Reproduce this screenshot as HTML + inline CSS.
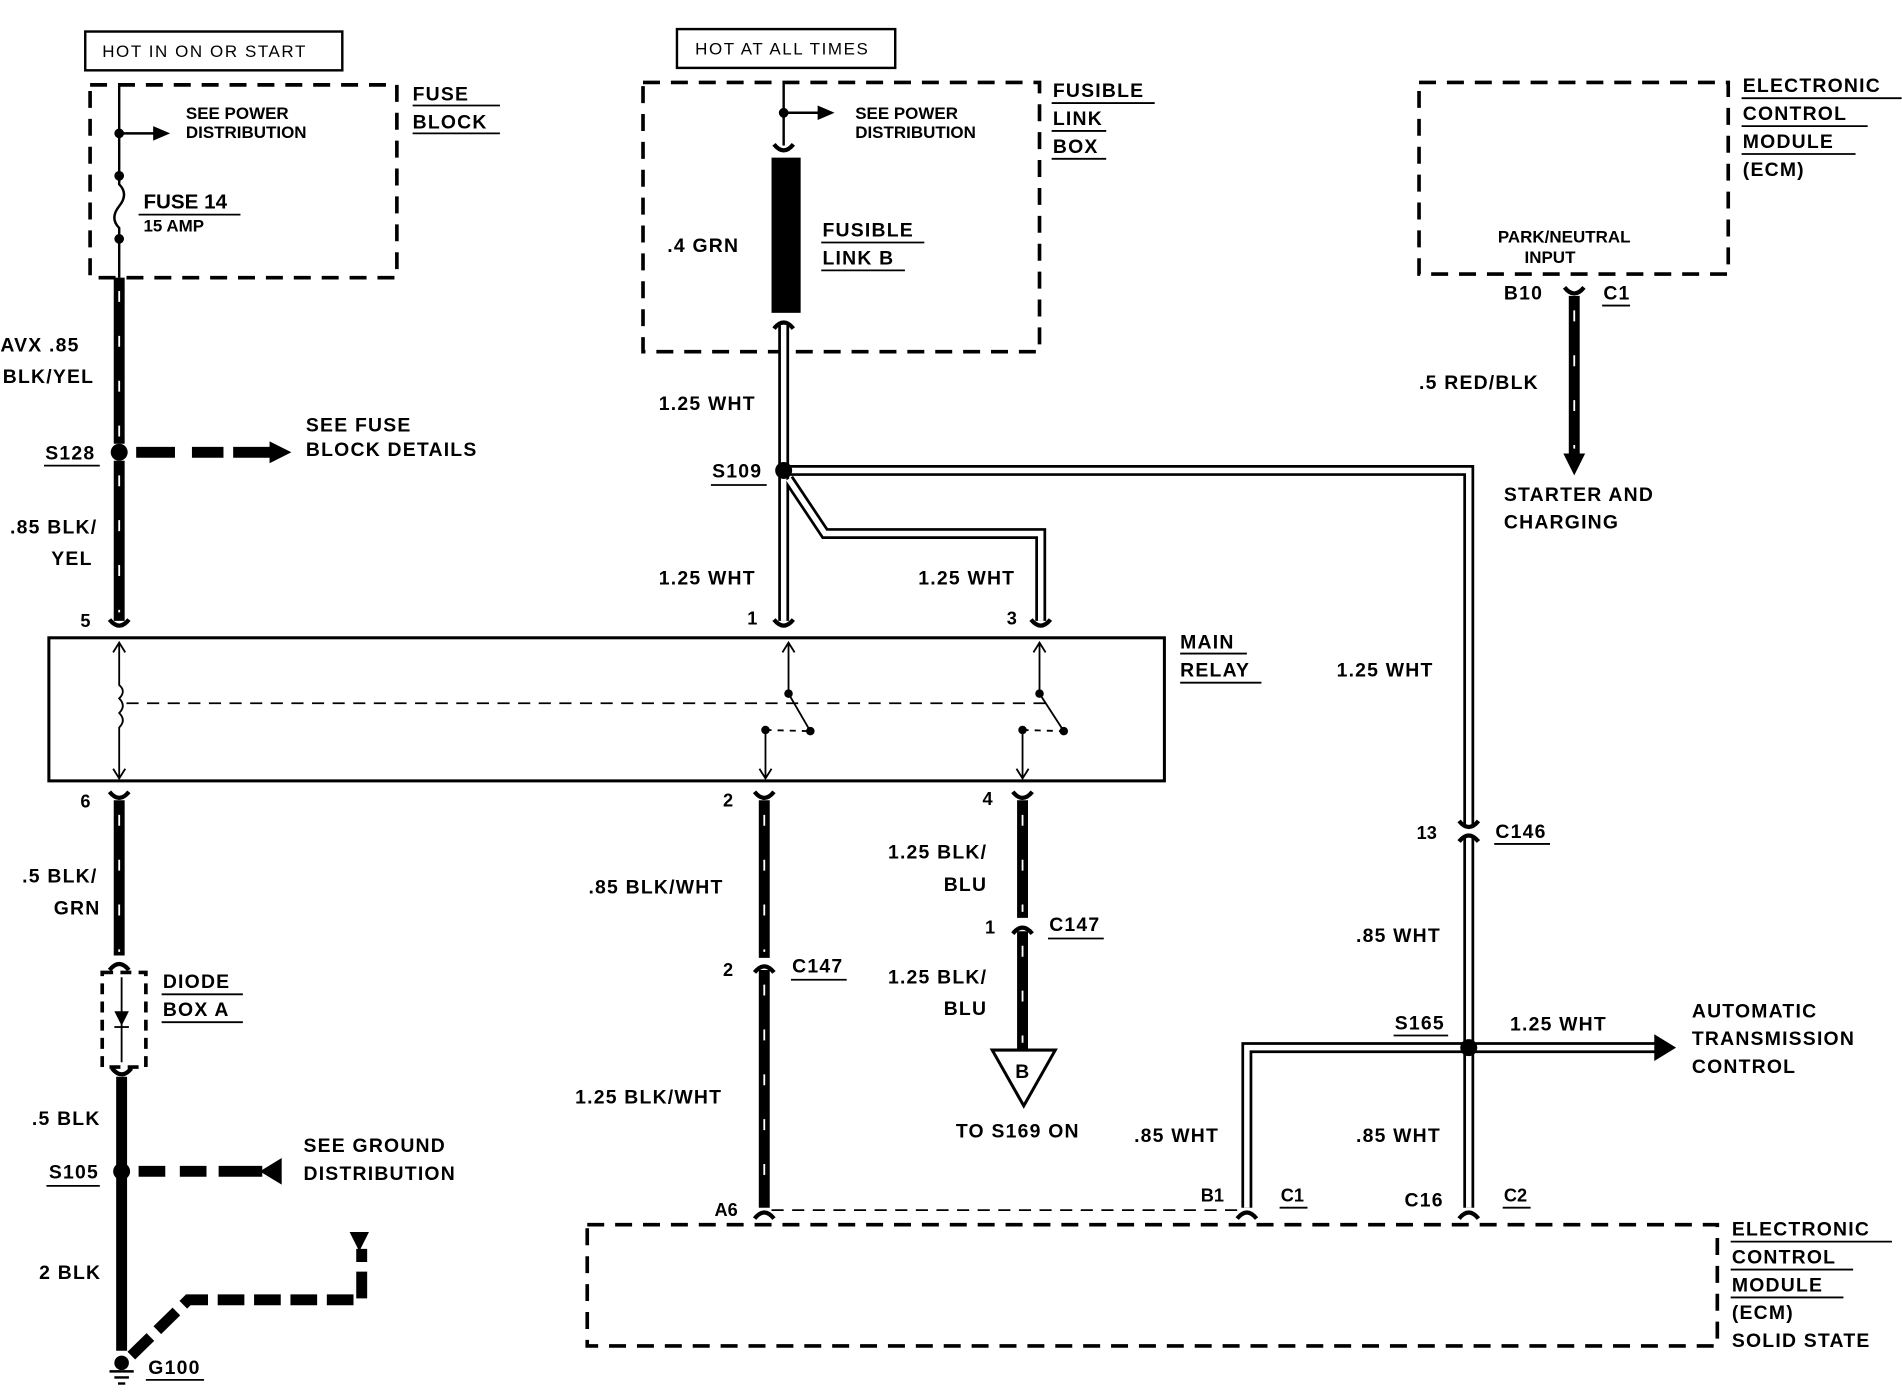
<!DOCTYPE html>
<html><head><meta charset="utf-8"><style>
html,body{margin:0;padding:0;background:#fff}
svg{display:block}
text{font-family:"Liberation Sans",Arial,sans-serif;font-weight:bold;fill:#000}
.t{font-size:16px;letter-spacing:1px}
.s{font-size:14px}
.n{font-size:15px}
.m{font-size:14px;font-weight:normal;letter-spacing:1.3px}
.dash{fill:none;stroke:#000;stroke-width:3;stroke-dasharray:14,9}
.thk{stroke:#000;stroke-width:9;fill:none}
.tick{stroke:#fff;stroke-width:1.5;stroke-dasharray:9,28;fill:none}
.dw{stroke:#000;stroke-width:9;fill:none}
.dwi{stroke:#fff;stroke-width:4.5;fill:none}
.thin{stroke:#000;stroke-width:2;fill:none}
.u{stroke:#000;stroke-width:1.5}
</style></head><body>
<svg width="1902" height="1392" viewBox="0 0 1568 1148" xmlns="http://www.w3.org/2000/svg">
<defs>
<path id="cd" d="M-8,-5 Q0,5 8,-5" fill="none" stroke="#000" stroke-width="3.5"/>
<path id="cu" d="M-8,5 Q0,-5 8,5" fill="none" stroke="#000" stroke-width="3.5"/>
</defs>

<rect x="70" y="26" width="212" height="32" fill="none" stroke="#000" stroke-width="2"/>
<text x="84" y="47" class="m">HOT IN ON OR START</text>
<rect x="74" y="70" width="253" height="159" class="dash"/>
<text x="340" y="83" class="t">FUSE</text><line x1="340" y1="87" x2="412" y2="87" class="u"/>
<text x="340" y="106" class="t">BLOCK</text><line x1="340" y1="110" x2="412" y2="110" class="u"/>
<line x1="98" y1="70" x2="98" y2="150" class="thin"/>
<circle cx="98" cy="110" r="4"/>
<line x1="98" y1="110" x2="128" y2="110" class="thin"/><path d="M126,104 L140,110 L126,116Z"/>
<text x="153" y="98" class="s">SEE POWER</text><text x="153" y="114" class="s">DISTRIBUTION</text>
<circle cx="98" cy="145" r="4"/><circle cx="98" cy="197" r="4"/>
<path d="M98,145 L98,152 Q106,160 98,170 Q90,180 98,188 L98,229" class="thin"/>
<text x="118" y="172" style="font-size:17px">FUSE 14</text>
<line x1="114" y1="177" x2="198" y2="177" class="u"/>
<text x="118" y="191" class="s">15 AMP</text>

<line x1="98" y1="229" x2="98" y2="366" class="thk"/><line x1="98" y1="240" x2="98" y2="366" class="tick"/>
<line x1="98" y1="380" x2="98" y2="512" class="thk"/><line x1="98" y1="392" x2="98" y2="505" class="tick"/>
<use href="#cd" x="98" y="516"/>
<text x="0" y="290" class="t">AVX .85</text><text x="2" y="316" class="t">BLK/YEL</text>
<circle cx="98" cy="373" r="7"/>
<text x="37" y="379" class="t">S128</text><line x1="36" y1="384" x2="82" y2="384" class="u"/>
<g stroke="#000" stroke-width="9"><line x1="112" y1="373" x2="144" y2="373"/><line x1="158" y1="373" x2="184" y2="373"/><line x1="192" y1="373" x2="224" y2="373"/></g>
<path d="M222,364 L240,373 L222,382Z"/>
<text x="252" y="356" class="t">SEE FUSE</text><text x="252" y="376" class="t">BLOCK DETAILS</text>
<text x="8" y="440" class="t">.85 BLK/</text><text x="42" y="466" class="t">YEL</text>
<text x="66" y="517" class="n">5</text>

<rect x="40" y="526" width="920" height="118" fill="none" stroke="#000" stroke-width="2.5"/>
<text x="973" y="535" class="t">MAIN</text><line x1="973" y1="539" x2="1028" y2="539" class="u"/>
<text x="973" y="558" class="t">RELAY</text><line x1="973" y1="563" x2="1040" y2="563" class="u"/>
<path d="M98,530 L98,565 Q104,570 98,576 Q104,582 98,588 Q104,594 98,600 L98,642" fill="none" stroke="#000" stroke-width="1.5"/>
<path d="M93,538 L98,530 L103,538 M93,634 L98,642 L103,634" fill="none" stroke="#000" stroke-width="1.5"/>
<line x1="104" y1="580" x2="862" y2="580" stroke="#000" stroke-width="1.5" stroke-dasharray="10,7"/>
<g fill="none" stroke="#000" stroke-width="1.5">
<path d="M650,530 L650,572 L668,603 M645,538 L650,530 L655,538"/>
<path d="M631,602 L631,642 M626,634 L631,642 L636,634"/>
<path d="M631,602 L668,603" stroke-dasharray="5,5"/>
<path d="M857,530 L857,572 L877,603 M852,538 L857,530 L862,538"/>
<path d="M843,602 L843,642 M838,634 L843,642 L848,634"/>
<path d="M843,602 L877,603" stroke-dasharray="5,5"/>
</g>
<circle cx="650" cy="572" r="3.5"/><circle cx="668" cy="603" r="3.5"/><circle cx="631" cy="602" r="3.5"/>
<circle cx="857" cy="572" r="3.5"/><circle cx="877" cy="603" r="3.5"/><circle cx="843" cy="602" r="3.5"/>

<text x="66" y="666" class="n">6</text>
<use href="#cd" x="98" y="658"/>
<line x1="98" y1="660" x2="98" y2="788" class="thk"/><line x1="98" y1="672" x2="98" y2="785" class="tick"/>
<use href="#cu" x="98" y="795"/>
<text x="18" y="728" class="t">.5 BLK/</text><text x="44" y="754" class="t">GRN</text>
<rect x="84" y="802" width="36" height="78" fill="none" stroke="#000" stroke-width="3" stroke-dasharray="9,6"/>
<line x1="100" y1="806" x2="100" y2="876" stroke="#000" stroke-width="1.5"/>
<path d="M94,834 L106,834 L100,846Z"/><line x1="94" y1="847" x2="106" y2="847" stroke="#000" stroke-width="1.5"/>
<text x="134" y="815" class="t">DIODE</text><line x1="133" y1="820" x2="200" y2="820" class="u"/>
<text x="134" y="838" class="t">BOX A</text><line x1="133" y1="843" x2="200" y2="843" class="u"/>
<use href="#cd" x="100" y="886"/>
<line x1="100" y1="888" x2="100" y2="1114" class="thk"/>
<text x="26" y="928" class="t">.5 BLK</text>
<circle cx="100" cy="966" r="7" fill="#000"/>
<text x="40" y="972" class="t">S105</text><line x1="38" y1="978" x2="82" y2="978" class="u"/>
<g stroke="#000" stroke-width="9"><line x1="114" y1="966" x2="136" y2="966"/><line x1="148" y1="966" x2="170" y2="966"/><line x1="180" y1="966" x2="216" y2="966"/></g>
<path d="M232,955 L214,966 L232,977Z"/>
<text x="250" y="950" class="t">SEE GROUND</text><text x="250" y="973" class="t">DISTRIBUTION</text>
<text x="32" y="1055" class="t">2 BLK</text>
<path d="M108,1118 L155,1072 L298,1072 L298,1030" stroke="#000" stroke-width="9" fill="none" stroke-dasharray="22,8"/>
<path d="M288,1016 L304,1016 L296,1032Z"/>
<circle cx="100" cy="1124" r="6"/>
<line x1="90" y1="1131" x2="110" y2="1131" stroke="#000" stroke-width="2"/>
<line x1="94" y1="1136" x2="106" y2="1136" stroke="#000" stroke-width="2"/>
<line x1="97" y1="1141" x2="103" y2="1141" stroke="#000" stroke-width="2"/>
<text x="122" y="1133" class="t">G100</text><line x1="120" y1="1138" x2="168" y2="1138" class="u"/>

<rect x="558" y="24" width="180" height="32" fill="none" stroke="#000" stroke-width="2"/>
<text x="573" y="45" class="m">HOT AT ALL TIMES</text>
<rect x="530" y="68" width="327" height="222" class="dash"/>
<text x="868" y="80" class="t">FUSIBLE</text><line x1="867" y1="85" x2="952" y2="85" class="u"/>
<text x="868" y="103" class="t">LINK</text><line x1="867" y1="108" x2="912" y2="108" class="u"/>
<text x="868" y="126" class="t">BOX</text><line x1="867" y1="131" x2="912" y2="131" class="u"/>
<line x1="646" y1="68" x2="646" y2="120" class="thin"/>
<circle cx="646" cy="93" r="4"/>
<line x1="646" y1="93" x2="676" y2="93" class="thin"/><path d="M674,87 L688,93 L674,99Z"/>
<text x="705" y="98" class="s">SEE POWER</text><text x="705" y="114" class="s">DISTRIBUTION</text>
<use href="#cd" x="646" y="124"/>
<rect x="636" y="130" width="24" height="128" fill="#000"/>
<use href="#cu" x="646" y="266"/>
<text x="550" y="208" class="t">.4 GRN</text>
<text x="678" y="195" class="t">FUSIBLE</text><line x1="677" y1="200" x2="762" y2="200" class="u"/>
<text x="678" y="218" class="t">LINK B</text><line x1="677" y1="223" x2="746" y2="223" class="u"/>

<g>
<path d="M646,268 L646,512 M646,388 L1211,388 L1211,680 M1211,690 L1211,996 M650,395 L680,440 L858,440 L858,512 M1211,864 L1028,864 L1028,996 M1211,864 L1370,864" class="dw"/>
<path d="M646,268 L646,512 M646,388 L1211,388 L1211,680 M1211,690 L1211,996 M650,395 L680,440 L858,440 L858,512 M1211,864 L1028,864 L1028,996 M1211,864 L1370,864" class="dwi"/>
</g>
<circle cx="646" cy="388" r="7"/>
<circle cx="1211" cy="864" r="7"/>
<path d="M1364,853 L1382,864 L1364,875Z"/>
<text x="543" y="338" class="t">1.25 WHT</text>
<text x="587" y="394" class="t">S109</text><line x1="586" y1="400" x2="632" y2="400" class="u"/>
<text x="543" y="482" class="t">1.25 WHT</text>
<text x="757" y="482" class="t">1.25 WHT</text>
<text x="616" y="515" class="n">1</text><text x="830" y="515" class="n">3</text>
<use href="#cd" x="646" y="516"/><use href="#cd" x="858" y="516"/>

<text x="596" y="665" class="n">2</text>
<use href="#cd" x="630" y="658"/>
<line x1="630" y1="660" x2="630" y2="790" class="thk"/><line x1="630" y1="672" x2="630" y2="785" class="tick"/>
<use href="#cu" x="630" y="797"/>
<line x1="630" y1="800" x2="630" y2="996" class="thk"/><line x1="630" y1="812" x2="630" y2="990" class="tick"/>
<use href="#cu" x="630" y="1000"/>
<text x="485" y="737" class="t">.85 BLK/WHT</text>
<text x="596" y="805" class="n">2</text>
<text x="653" y="802" class="t">C147</text><line x1="652" y1="808" x2="698" y2="808" class="u"/>
<text x="474" y="910" class="t">1.25 BLK/WHT</text>
<text x="589" y="1003" class="n">A6</text>
<line x1="636" y1="998" x2="1024" y2="998" stroke="#000" stroke-width="1.5" stroke-dasharray="10,7"/>

<text x="810" y="664" class="n">4</text>
<use href="#cd" x="843" y="658"/>
<line x1="843" y1="660" x2="843" y2="757" class="thk"/><line x1="843" y1="672" x2="843" y2="752" class="tick"/>
<use href="#cu" x="843" y="765"/>
<line x1="843" y1="768" x2="843" y2="866" class="thk"/><line x1="843" y1="780" x2="843" y2="860" class="tick"/>
<text x="732" y="708" class="t">1.25 BLK/</text><text x="778" y="735" class="t">BLU</text>
<text x="812" y="770" class="n">1</text>
<text x="865" y="768" class="t">C147</text><line x1="864" y1="774" x2="910" y2="774" class="u"/>
<text x="732" y="811" class="t">1.25 BLK/</text><text x="778" y="837" class="t">BLU</text>
<path d="M818,866 L870,866 L844,912Z" fill="#fff" stroke="#000" stroke-width="2.5"/>
<text x="837" y="889" class="t">B</text>
<text x="788" y="938" class="t">TO S169 ON</text>

<text x="1102" y="558" class="t">1.25 WHT</text>
<use href="#cu" x="1211" y="689"/><use href="#cd" x="1211" y="682"/>
<text x="1168" y="692" class="n">13</text>
<text x="1233" y="691" class="t">C146</text><line x1="1232" y1="696" x2="1278" y2="696" class="u"/>
<text x="1118" y="777" class="t">.85 WHT</text>
<text x="1150" y="849" class="t">S165</text><line x1="1149" y1="854" x2="1194" y2="854" class="u"/>
<text x="1245" y="850" class="t">1.25 WHT</text>
<text x="1395" y="839" class="t">AUTOMATIC</text>
<text x="1395" y="862" class="t">TRANSMISSION</text>
<text x="1395" y="885" class="t">CONTROL</text>
<text x="935" y="942" class="t">.85 WHT</text>
<text x="1118" y="942" class="t">.85 WHT</text>
<text x="990" y="991" class="n">B1</text>
<text x="1056" y="991" class="n">C1</text><line x1="1055" y1="996" x2="1078" y2="996" class="u"/>
<text x="1158" y="995" class="t">C16</text>
<text x="1240" y="991" class="n">C2</text><line x1="1239" y1="996" x2="1262" y2="996" class="u"/>
<use href="#cu" x="1028" y="1000"/><use href="#cu" x="1211" y="1000"/>

<rect x="484" y="1010" width="932" height="100" class="dash"/>
<text x="1428" y="1019" class="t">ELECTRONIC</text><line x1="1427" y1="1024" x2="1560" y2="1024" class="u"/>
<text x="1428" y="1042" class="t">CONTROL</text><line x1="1427" y1="1047" x2="1528" y2="1047" class="u"/>
<text x="1428" y="1065" class="t">MODULE</text><line x1="1427" y1="1070" x2="1520" y2="1070" class="u"/>
<text x="1428" y="1088" class="t">(ECM)</text>
<text x="1428" y="1111" class="t">SOLID STATE</text>

<rect x="1170" y="68" width="255" height="158" class="dash"/>
<text x="1437" y="76" class="t">ELECTRONIC</text><line x1="1436" y1="81" x2="1568" y2="81" class="u"/>
<text x="1437" y="99" class="t">CONTROL</text><line x1="1436" y1="104" x2="1540" y2="104" class="u"/>
<text x="1437" y="122" class="t">MODULE</text><line x1="1436" y1="127" x2="1530" y2="127" class="u"/>
<text x="1437" y="145" class="t">(ECM)</text>
<text x="1235" y="200" class="s">PARK/NEUTRAL</text>
<text x="1257" y="217" class="s">INPUT</text>
<text x="1240" y="247" class="t">B10</text>
<text x="1322" y="247" class="t">C1</text><line x1="1321" y1="252" x2="1344" y2="252" class="u"/>
<use href="#cd" x="1298" y="242"/>
<line x1="1298" y1="244" x2="1298" y2="376" class="thk"/><line x1="1298" y1="256" x2="1298" y2="370" class="tick"/>
<path d="M1289,374 L1307,374 L1298,392Z"/>
<text x="1170" y="321" class="t">.5 RED/BLK</text>
<text x="1240" y="413" class="t">STARTER AND</text>
<text x="1240" y="436" class="t">CHARGING</text>
</svg>
</body></html>
